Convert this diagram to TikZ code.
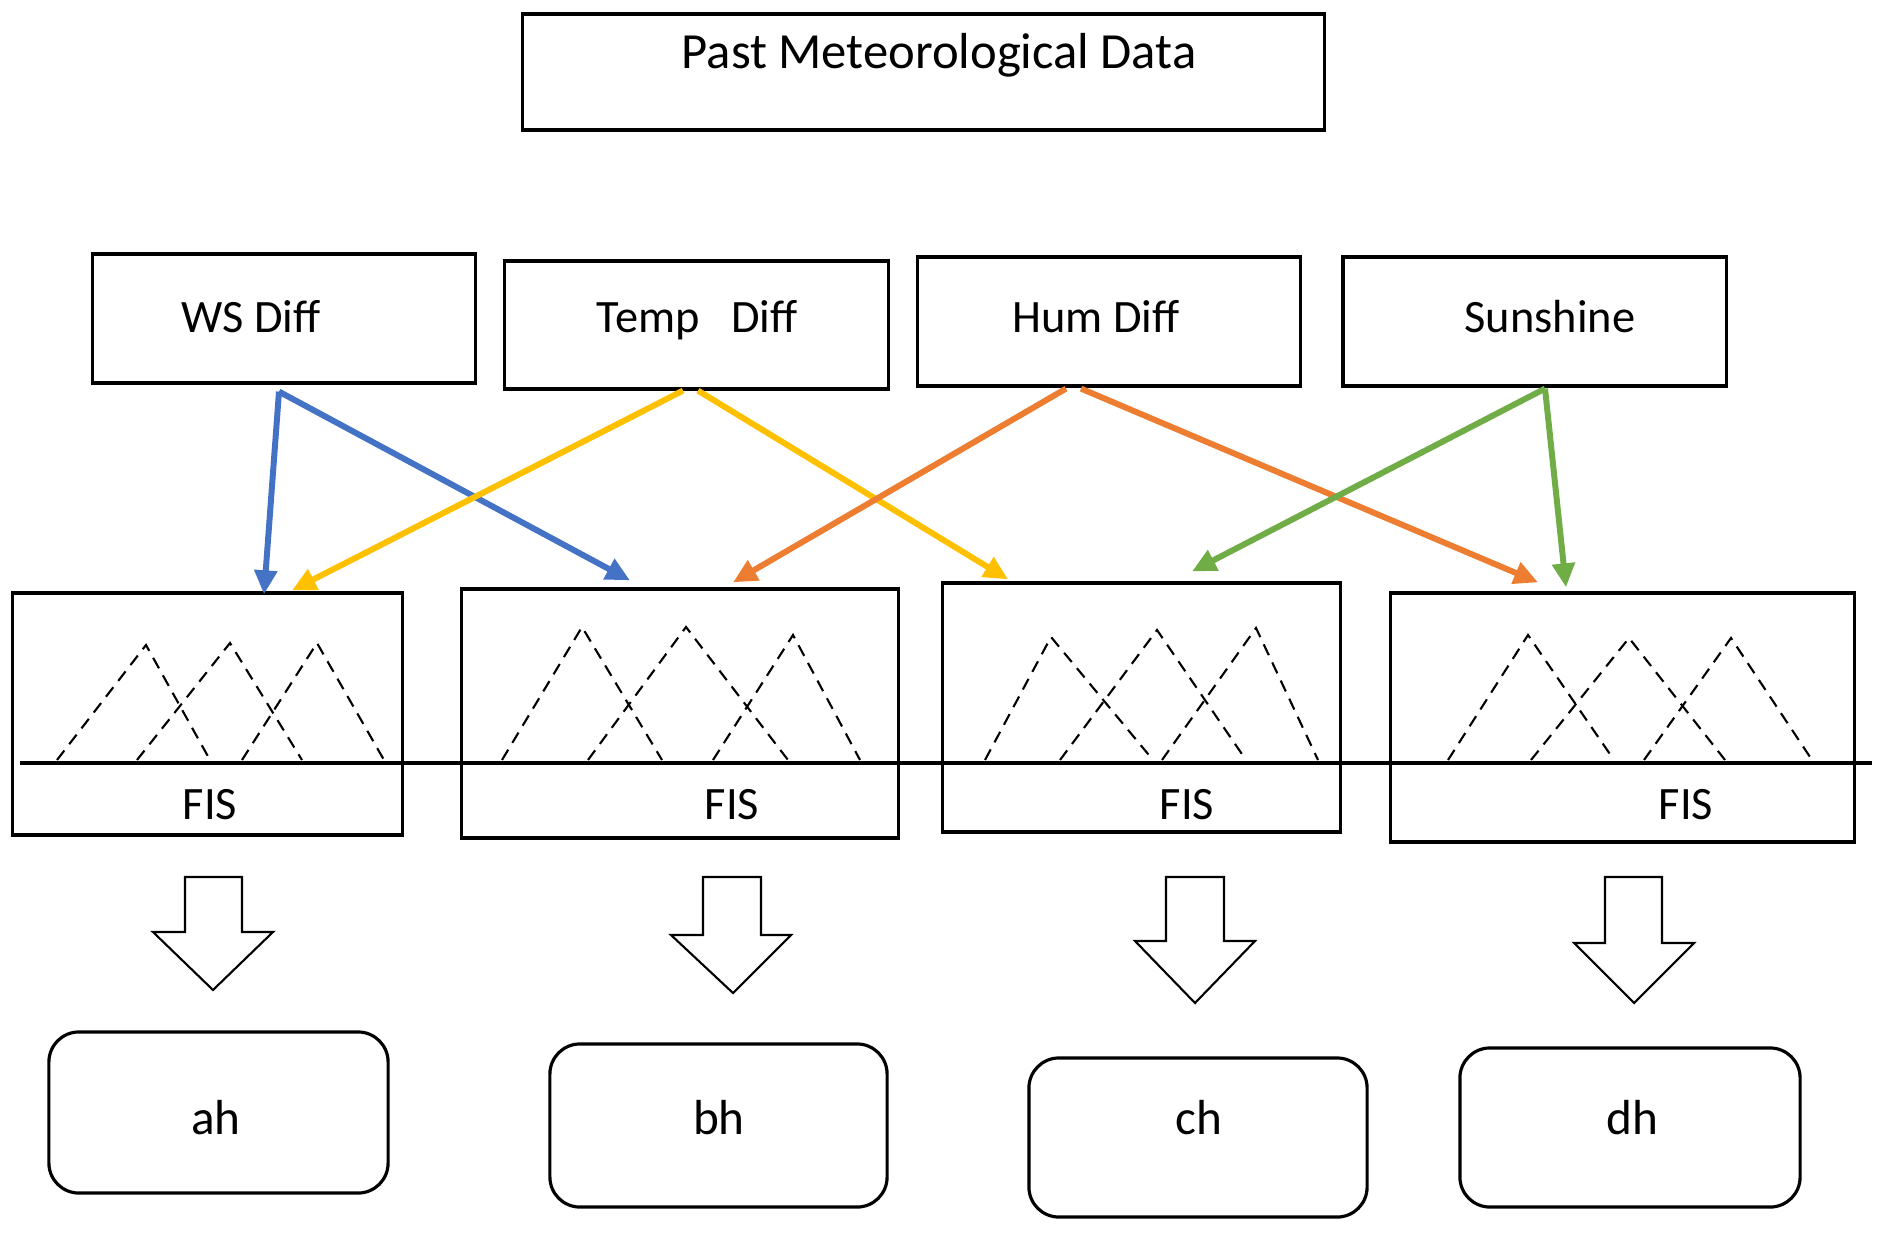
\documentclass[tikz,border=0pt]{standalone}
\usepackage{fontspec}
\setmainfont{Carlito}
\usetikzlibrary{arrows.meta,calc}

\definecolor{wsblue}{HTML}{4472C4}
\definecolor{tempyellow}{HTML}{FFC000}
\definecolor{humorange}{HTML}{ED7D31}
\definecolor{sungreen}{HTML}{70AD47}

\begin{document}
\begin{tikzpicture}[x=0.01cm,y=-0.01cm,
  box/.style={draw,line width=0.9pt,inner sep=0pt},
  hbox/.style={draw,line width=0.9pt,rounded corners=0.3cm,inner sep=0pt},
  lbl/.style={font=\fontsize{13.2}{15}\selectfont,inner sep=0pt,text height=0.82em,text depth=0pt},
  link/.style={line width=1.7pt,-{Triangle[length=0.24cm,width=0.22cm]}},
  mf/.style={dash pattern=on 0.12cm off 0.08cm,line width=0.6pt},
  blockarrow/.style={draw,line width=0.6pt}]

\useasboundingbox (0,0) rectangle (1880,1237);

% Data box
\node[box,minimum width=8.01cm,minimum height=1.16cm] (data) at (923.5,72) {};
\node[lbl,font=\fontsize{14.4}{17}\selectfont] (data-txt) at (939,54) {Past Meteorological Data};

% Input boxes
\node[box,minimum width=3.82cm,minimum height=1.29cm] (ws) at (284,318.5) {};
\node[box,minimum width=3.83cm,minimum height=1.28cm] (temp) at (696.5,325) {};
\node[box,minimum width=3.82cm,minimum height=1.29cm] (hum) at (1109,321.5) {};
\node[box,minimum width=3.83cm,minimum height=1.29cm] (sun) at (1534.5,321.5) {};
\node[lbl] (ws-txt) at (251,318) {WS Diff};
\node[lbl] (temp-txt) at (697,318) {Temp~~~Diff};
\node[lbl] (hum-txt) at (1096,318) {Hum Diff};
\node[lbl] (sun-txt) at (1550,318) {Sunshine};

% FIS boxes
\node[box,minimum width=3.89cm,minimum height=2.42cm] (fis1) at (207.5,714) {};
\node[box,minimum width=4.36cm,minimum height=2.49cm] (fis2) at (680,713.5) {};
\node[box,minimum width=3.97cm,minimum height=2.49cm] (fis3) at (1141.5,707.5) {};
\node[box,minimum width=4.63cm,minimum height=2.49cm] (fis4) at (1622.5,717.5) {};
\node[lbl] (fis1-txt) at (210,805) {FIS};
\node[lbl] (fis2-txt) at (732,805) {FIS};
\node[lbl] (fis3-txt) at (1187,805) {FIS};
\node[lbl] (fis4-txt) at (1686,805) {FIS};

% Membership functions
\draw[line width=0.9pt] (20,763) -- (1872,763);
\foreach \a/\p/\h/\b in {57/146/645/210, 137/230/643/302, 242/317/643/384,
    502/582/627/662, 588/686/627/788, 713/793/635/860,
    985/1051/637/1153, 1060/1157/630/1246, 1162/1256/628/1318,
    1448/1528/635/1614, 1531/1629/638/1725, 1644/1731/638/1812}
  \draw[mf] (\a,760) -- (\p,\h) -- (\b,760);

% Inputs to FIS
\draw[link,wsblue] ($(ws.south)+(-5,7)$) -- ($(fis1.north)+(56.5,3)$);
\draw[link,wsblue] ($(ws.south)+(-5,7)$) -- ($(fis2.north)+(-50,-7)$);
\draw[link,tempyellow] ($(temp.south)+(-13.5,0)$) -- ($(fis1.north)+(84.5,-1)$);
\draw[link,tempyellow] ($(temp.south)+(1.5,0)$) -- ($(fis3.north)+(-133.5,-2)$);
\draw[link,humorange] ($(hum.south)+(-43,1)$) -- ($(fis2.north)+(53,-5)$);
\draw[link,humorange] ($(hum.south)+(-28,1)$) -- ($(fis4.north)+(-84.5,-9)$);
\draw[link,sungreen] ($(sun.south)+(10.5,1)$) -- ($(fis3.north)+(50.5,-10)$);
\draw[link,sungreen] ($(sun.south)+(10.5,1)$) -- ($(fis4.north)+(-56.5,-4)$);

% Block arrows
\foreach \l/\r/\hl/\hr/\t/\hb/\ty in {185/242/153/273/213/932/990,
    703/761/671/791/733/935/993, 1166/1224/1135/1255/1195/941/1003,
    1605/1662/1574/1694/1634/943/1003}
  \draw[blockarrow] (\l,877) -- (\l,\hb) -- (\hl,\hb) -- (\t,\ty) -- (\hr,\hb) -- (\r,\hb) -- (\r,877) -- cycle;

% Outputs
\node[hbox,minimum width=3.39cm,minimum height=1.61cm] (ah) at (218.5,1112.5) {};
\node[hbox,minimum width=3.37cm,minimum height=1.63cm] (bh) at (718.5,1125.5) {};
\node[hbox,minimum width=3.38cm,minimum height=1.59cm] (ch) at (1198,1137.5) {};
\node[hbox,minimum width=3.40cm,minimum height=1.59cm] (dh) at (1630,1127.5) {};
\node[lbl,font=\fontsize{14}{16}\selectfont] (ah-txt) at (216,1120) {ah};
\node[lbl,font=\fontsize{14}{16}\selectfont] (bh-txt) at (719,1120) {bh};
\node[lbl,font=\fontsize{14}{16}\selectfont] (ch-txt) at (1199,1120) {ch};
\node[lbl,font=\fontsize{14}{16}\selectfont] (dh-txt) at (1632,1120) {dh};

\end{tikzpicture}
\end{document}
